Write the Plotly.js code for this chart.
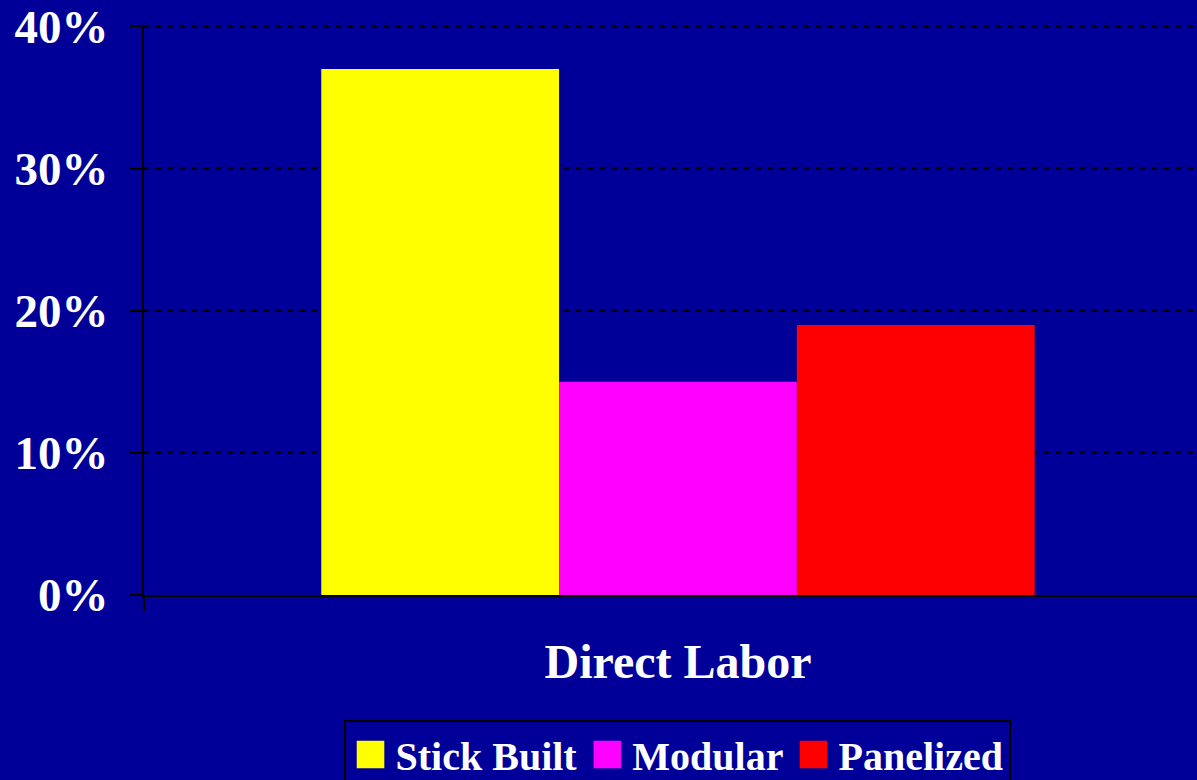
<!DOCTYPE html>
<html>
<head>
<meta charset="utf-8">
<script src="https://cdn.plot.ly/plotly-3.0.1.min.js"></script>
<style>
  html, body { margin: 0; padding: 0; background: #000099; }
  #chart { width: 1197px; height: 780px; }
</style>
</head>
<body>
<div id="chart"></div>
<script>
const categories = ['Direct Labor'];
const seriesNames = ['Stick Built', 'Modular', 'Panelized'];
const stickBuilt = [37];
const modular = [15];
const panelized = [19];
const seriesColors = ['#FFFF00', '#FF00FF', '#FF0000'];
const yTickVals = [0, 10, 20, 30, 40];
const yTickText = ['0%', '10%', '20%', '30%', '40%'];

const serif = 'Liberation Serif, Times New Roman, serif';
const seriesValues = [stickBuilt, modular, panelized];

const traces = seriesNames.map((name, i) => ({
  type: 'bar',
  name: name,
  x: categories,
  y: seriesValues[i],
  marker: { color: seriesColors[i], line: { width: 0 } },
  hoverinfo: 'skip'
}));

const layout = {
  width: 1197,
  height: 780,
  paper_bgcolor: '#000099',
  plot_bgcolor: '#000099',
  margin: { l: 144, r: 0, t: 25, b: 185, pad: 0 },
  barmode: 'group',
  bargap: 0.332,
  bargroupgap: 0,
  showlegend: true,
  legend: {
    orientation: 'h',
    xref: 'container', yref: 'container',
    x: 0.5656, xanchor: 'center',
    y: 1 - 720 / 780, yanchor: 'top',
    bgcolor: '#000099',
    bordercolor: '#000000',
    borderwidth: 2,
    itemwidth: 40,
    font: { family: serif, size: 40, color: '#FFFFFF', weight: 'bold' },
    traceorder: 'normal'
  },
  xaxis: {
    type: 'category',
    range: [-0.5, 0.486],
    showline: true, linecolor: '#000000', linewidth: 2,
    ticks: 'outside', tickson: 'boundaries', ticklen: 14, tickcolor: '#000000', tickwidth: 2,
    showgrid: false, zeroline: false,
    tickfont: { family: serif, size: 48, color: '#FFFFFF', weight: 'bold' },
    ticklabelstandoff: 23,
    fixedrange: true
  },
  yaxis: {
    range: [0, 40.1],
    tickvals: yTickVals,
    ticktext: yTickText,
    showline: true, linecolor: '#000000', linewidth: 2,
    ticks: 'outside', ticklen: 13, tickcolor: '#000000', tickwidth: 2,
    showgrid: true, gridcolor: '#000000', gridwidth: 3, griddash: '5px,7px',
    zeroline: false,
    tickfont: { family: serif, size: 47, color: '#FFFFFF', weight: 'bold' },
    ticklabelstandoff: 11,
    fixedrange: true
  }
};

Plotly.newPlot('chart', traces, layout, { displayModeBar: false, staticPlot: true }).then(gd => {
  gd.querySelectorAll('.legend .legendpoints path').forEach(p => {
    const t = p.getAttribute('transform') || '';
    p.setAttribute('transform', t + ' scale(2.3)');
  });
});
</script>
</body>
</html>
